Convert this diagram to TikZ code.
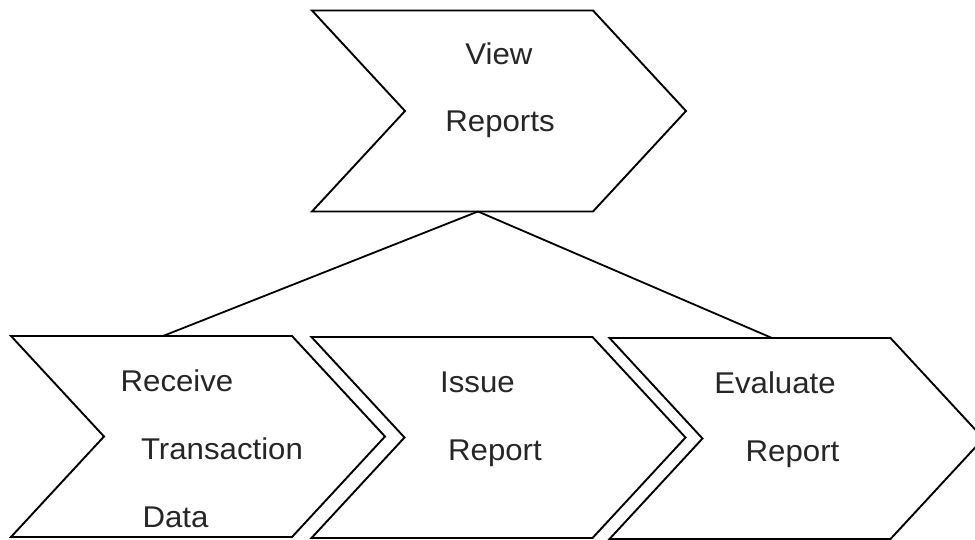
\documentclass[tikz,border=0pt]{standalone}
\usepackage{fontspec}
\setmainfont[FakeStretch=1.04]{Liberation Sans}
\begin{document}
\begin{tikzpicture}[x=1pt,y=-1pt,
  body/.style={minimum width=281pt, minimum height=201pt, inner sep=0pt, outer sep=0pt},
  outline/.style={line width=1.9pt, line join=miter, black},
  label/.style={anchor=base, inner sep=0pt, font=\fontsize{30}{36}\selectfont, text=black!85},
  link/.style={line width=1.8pt, black}]
\useasboundingbox (0,0) rectangle (975,540);

% chevron outline around the rectangular body of a named node
\newcommand\chevronoutline[1]{%
  \draw[outline] (#1.north west) -- (#1.north east) -- ([xshift=93pt]#1.east)
    -- (#1.south east) -- (#1.south west) -- ([xshift=93pt]#1.west) -- cycle;}

% bodies of the chevrons
\node[body] (view)  at (452.5,111) {};
\node[body] (recv)  at (151.5,436.5) {};
\node[body] (issue) at (452,437.5) {};
\node[body] (eval)  at (750,438.5) {};

\chevronoutline{view}
\chevronoutline{recv}
\chevronoutline{issue}
\chevronoutline{eval}

% links from the parent step to the sub-steps
\coordinate (apex) at ([xshift=25.5pt]view.south);
\draw[link] (apex) -- ([xshift=11.5pt]recv.north);
\draw[link] (apex) -- ([xshift=22pt]eval.north);

% labels
\node[label] (viewA) at (499,65)  {View};
\node[label] (viewB) at (500,132) {Reports};

\node[label] (recvA) at (177,391)   {Receive};
\node[label] (recvB) at (222,459)   {Transaction};
\node[label] (recvC) at (175.5,527) {Data};

\node[label] (issueA) at (477.5,392) {Issue};
\node[label] (issueB) at (495,460)   {Report};

\node[label] (evalA) at (775,393)   {Evaluate};
\node[label] (evalB) at (792.5,461) {Report};
\end{tikzpicture}
\end{document}
